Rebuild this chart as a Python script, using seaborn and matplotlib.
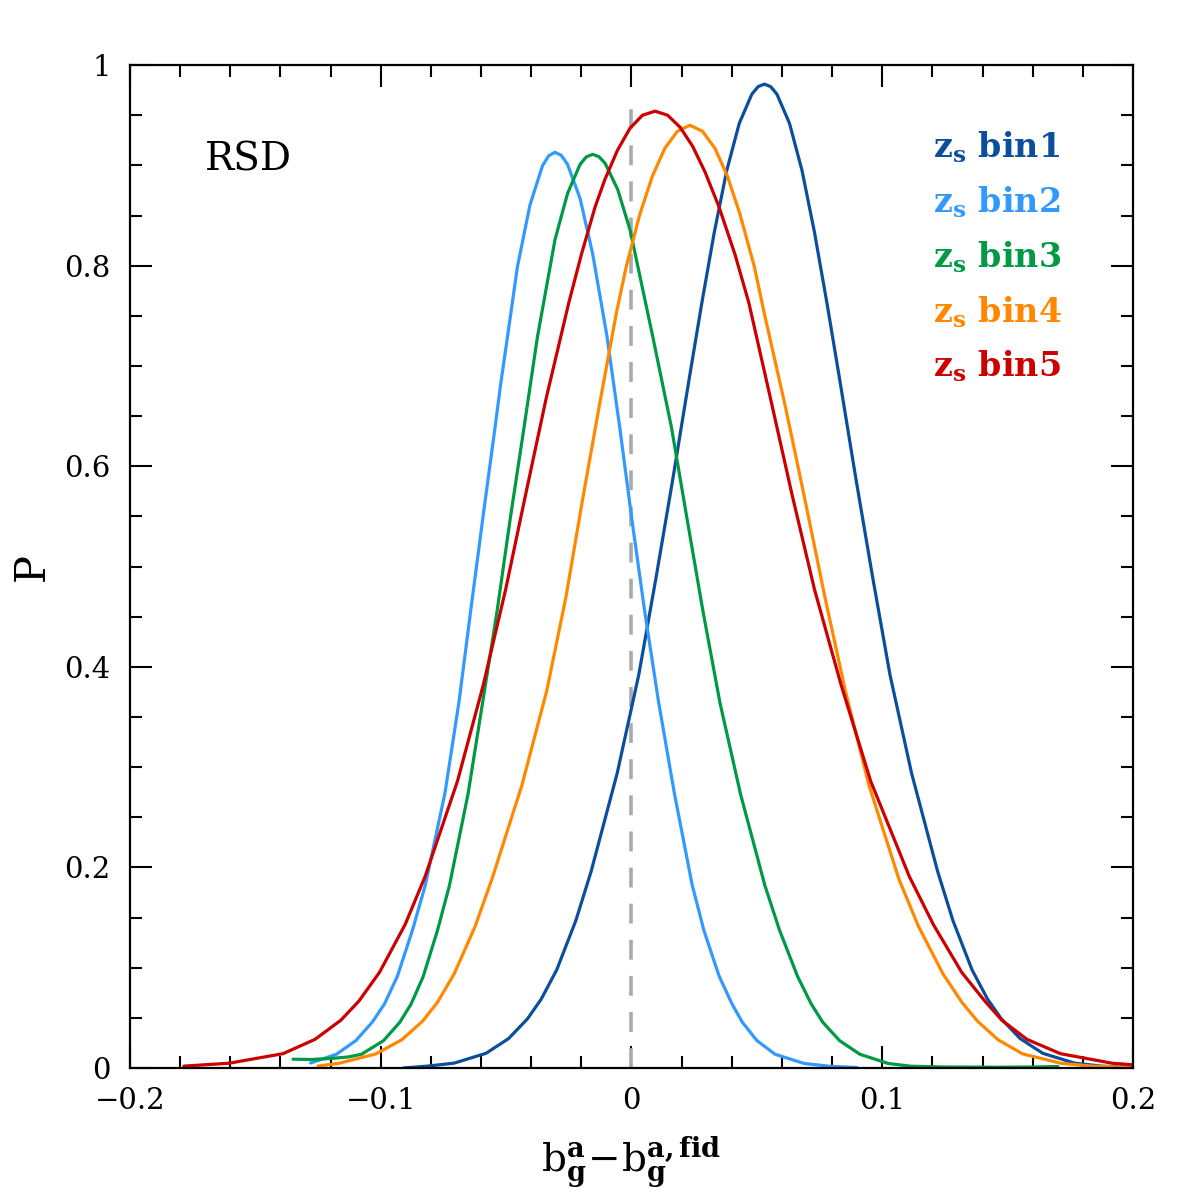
import numpy as np
import pandas as pd
import matplotlib
matplotlib.use("Agg")
import matplotlib.pyplot as plt
import seaborn as sb
from matplotlib.ticker import MultipleLocator, FuncFormatter

# values
x_bin1 = [-0.091, -0.081, -0.0707, -0.058, -0.049, -0.0415, -0.036, -0.0298, -0.0222, -0.0161,
          -0.0057, 0.0029, 0.0099, 0.0166, 0.023, 0.028, 0.033, 0.038, 0.043, 0.048,
          0.0505, 0.053, 0.0555, 0.058, 0.063, 0.068, 0.073, 0.078, 0.083, 0.0894,
          0.0961, 0.1031, 0.1117, 0.1221, 0.1282, 0.1358, 0.142, 0.1475, 0.155, 0.164,
          0.1767, 0.187, 0.200]
p_bin1 = [0.0, 0.002, 0.0049, 0.0147, 0.0294, 0.049, 0.0687, 0.098, 0.147, 0.196,
          0.294, 0.392, 0.4905, 0.589, 0.687, 0.762, 0.833, 0.895, 0.942, 0.971,
          0.9785, 0.981, 0.9785, 0.971, 0.942, 0.895, 0.833, 0.762, 0.687, 0.589,
          0.4905, 0.392, 0.294, 0.196, 0.147, 0.098, 0.0687, 0.049, 0.0294, 0.0147,
          0.0049, 0.002, 0.0005]

x_bin2 = [-0.128, -0.1177, -0.1099, -0.1034, -0.0985, -0.0934, -0.0874, -0.0822, -0.0744, -0.0688,
          -0.0641, -0.0593, -0.0544, -0.052, -0.0494, -0.0455, -0.0405, -0.0355, -0.033, -0.0305,
          -0.028, -0.0255, -0.0205, -0.0155, -0.0098, -0.0047, 0.0001, 0.0052, 0.0108, 0.0171,
          0.0242, 0.0289, 0.035, 0.0401, 0.0442, 0.050, 0.0573, 0.0688, 0.0788, 0.090]
p_bin2 = [0.005, 0.0137, 0.0274, 0.0457, 0.0639, 0.0913, 0.137, 0.1826, 0.274, 0.365,
          0.4565, 0.548, 0.639, 0.685, 0.730, 0.7987, 0.8603, 0.8996, 0.9096, 0.913,
          0.910, 0.901, 0.867, 0.812, 0.730, 0.639, 0.548, 0.4565, 0.365, 0.274,
          0.1826, 0.137, 0.0913, 0.0639, 0.0457, 0.0274, 0.0137, 0.0046, 0.0018, 0.0005]

x_bin3 = [-0.135, -0.128, -0.120, -0.113, -0.1077, -0.0989, -0.0924, -0.0879, -0.0831, -0.0774,
          -0.0726, -0.0652, -0.0594, -0.0536, -0.0484, -0.0429, -0.0375, -0.0305, -0.0255, -0.0205,
          -0.018, -0.0155, -0.013, -0.0105, -0.0055, -0.0005, 0.0085, 0.016, 0.0222, 0.0285,
          0.0353, 0.0435, 0.0532, 0.0591, 0.0663, 0.0717, 0.0763, 0.083, 0.0911, 0.1023,
          0.1114, 0.125, 0.145, 0.160, 0.170]
p_bin3 = [0.0088, 0.0085, 0.0095, 0.011, 0.0137, 0.0273, 0.0456, 0.0638, 0.091, 0.137,
          0.182, 0.273, 0.364, 0.4555, 0.547, 0.638, 0.729, 0.826, 0.872, 0.901,
          0.9085, 0.911, 0.9087, 0.902, 0.876, 0.835, 0.729, 0.638, 0.547, 0.4555,
          0.364, 0.273, 0.182, 0.137, 0.091, 0.0638, 0.0456, 0.0273, 0.0137, 0.0046,
          0.0018, 0.001, 0.0008, 0.001, 0.0015]

x_bin4 = [-0.125, -0.1167, -0.1019, -0.0916, -0.0832, -0.0773, -0.0707, -0.0624, -0.0557, -0.0437,
          -0.0338, -0.0261, -0.0197, -0.013, -0.0061, -0.0021, 0.0033, 0.0083, 0.0133, 0.0183,
          0.0233, 0.0283, 0.0333, 0.0383, 0.0433, 0.049, 0.053, 0.0615, 0.0694, 0.0771,
          0.0853, 0.0947, 0.1067, 0.1145, 0.1242, 0.1317, 0.1379, 0.1462, 0.156, 0.1714,
          0.1837, 0.200]
p_bin4 = [0.002, 0.0047, 0.0141, 0.0282, 0.047, 0.0658, 0.094, 0.141, 0.188, 0.282,
          0.376, 0.47, 0.564, 0.658, 0.752, 0.799, 0.851, 0.889, 0.917, 0.934,
          0.940, 0.934, 0.917, 0.889, 0.851, 0.799, 0.752, 0.658, 0.564, 0.47,
          0.376, 0.282, 0.188, 0.141, 0.094, 0.0658, 0.047, 0.0282, 0.0141, 0.0047,
          0.0019, 0.0005]

x_bin5 = [-0.1785, -0.1605, -0.139, -0.1262, -0.1159, -0.1087, -0.1005, -0.0903, -0.0823, -0.0694,
          -0.0591, -0.0502, -0.0422, -0.034, -0.025, -0.020, -0.0145, -0.0106, -0.0056, -0.0006,
          0.0044, 0.0094, 0.0144, 0.0194, 0.0244, 0.0294, 0.0349, 0.0413, 0.0468, 0.0554,
          0.064, 0.073, 0.0836, 0.0954, 0.1108, 0.1204, 0.1317, 0.1409, 0.1477, 0.1577,
          0.1711, 0.1917, 0.200]
p_bin5 = [0.0019, 0.0048, 0.0143, 0.0286, 0.0477, 0.0668, 0.0954, 0.143, 0.191, 0.286,
          0.382, 0.477, 0.572, 0.668, 0.763, 0.811, 0.8586, 0.886, 0.915, 0.937,
          0.950, 0.954, 0.950, 0.938, 0.919, 0.893, 0.8586, 0.811, 0.763, 0.668,
          0.572, 0.477, 0.382, 0.286, 0.191, 0.143, 0.0954, 0.0668, 0.0477, 0.0286,
          0.0143, 0.0048, 0.0032]

bins = ["bin1", "bin2", "bin3", "bin4", "bin5"]
colors = ["#0b4f9c", "#3399ff", "#009944", "#ff8800", "#cc0000"]

curves = pd.concat([
    pd.DataFrame({"x": x, "P": p, "bin": b})
    for x, p, b in zip([x_bin1, x_bin2, x_bin3, x_bin4, x_bin5],
                       [p_bin1, p_bin2, p_bin3, p_bin4, p_bin5], bins)
])

sb.set_style("ticks")
plt.rcParams['font.family'] = ['DejaVu Serif']
plt.rcParams['mathtext.fontset'] = 'dejavuserif'
for k in ['text.color', 'axes.labelcolor', 'xtick.color', 'ytick.color', 'axes.edgecolor']:
    plt.rcParams[k] = 'black'

fig = plt.figure(figsize=(11.96, 11.96), dpi=100)
ax = fig.add_axes([0.1087, 0.107, 0.8386, 0.8386])

ax.axvline(0, ymin=0, ymax=0.97, color="#aaaaaa", lw=2.6, ls=(0, (5.5, 4.5)))

sb.lineplot(data=curves, x="x", y="P", hue="bin", palette=colors, sort=False,
            estimator=None, lw=2.3, legend=False, ax=ax)

ax.set_xlim(-0.2, 0.2)
ax.set_ylim(0, 1)
ax.xaxis.set_major_locator(MultipleLocator(0.1))
ax.xaxis.set_minor_locator(MultipleLocator(0.02))
ax.yaxis.set_major_locator(MultipleLocator(0.2))
ax.yaxis.set_minor_locator(MultipleLocator(0.05))
fmt = FuncFormatter(lambda v, pos: ("%g" % round(v, 3)).replace("-", "\u2212"))
ax.xaxis.set_major_formatter(fmt)
ax.yaxis.set_major_formatter(fmt)
ax.tick_params(which="both", direction="in", top=True, right=True, width=1.5,
               labelsize=21, pad=14)
ax.tick_params(which="major", length=15.8)
ax.tick_params(which="minor", length=8.6)
for s in ax.spines.values():
    s.set_linewidth(1.6)

ax.set_xlabel(r"$\mathrm{b}_{\mathbf{g}}^{\mathbf{a}}\!-\!\mathrm{b}_{\mathbf{g}}^{\mathbf{a,fid}}$",
              fontsize=28, labelpad=14)
ax.set_ylabel("P", fontsize=30, labelpad=8)

ax.text(0.075, 0.905, "RSD", transform=ax.transAxes, fontsize=28, va="center", ha="left")

for i, (b, c) in enumerate(zip(bins, colors)):
    ax.text(0.801, 0.918 - i * 0.0547, r"$\mathbf{z_s}$ " + b, transform=ax.transAxes,
            fontsize=24, color=c, va="center", ha="left", fontweight="bold")

fig.savefig("out.png", dpi=100)
